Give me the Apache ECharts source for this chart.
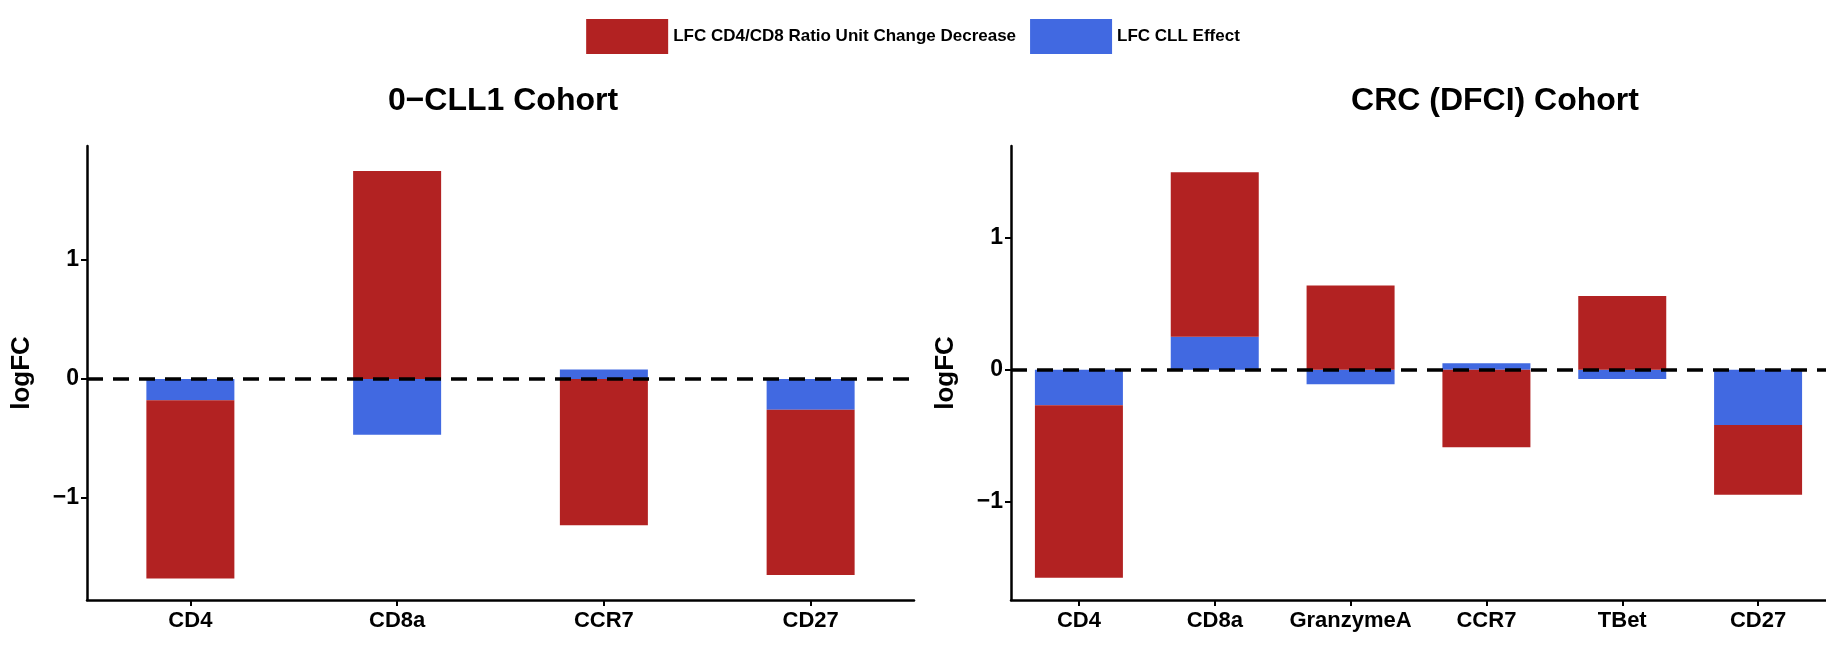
<!DOCTYPE html>
<html><head><meta charset="utf-8">
<script src="https://cdn.jsdelivr.net/npm/echarts@6/dist/echarts.min.js"></script>
<style>html,body{margin:0;padding:0;background:#fff}#c{width:1826px;height:647px}</style>
</head><body><div id="c"></div>
<script>
// values
var catsL = ['CD4', 'CD8a', 'CCR7', 'CD27'];
var blueL = [-0.18, -0.47, 0.08, -0.26];
var redL = [-1.50, 1.75, -1.23, -1.39];
var catsR = ['CD4', 'CD8a', 'GranzymeA', 'CCR7', 'TBet', 'CD27'];
var blueR = [-0.27, 0.25, -0.11, 0.05, -0.07, -0.42];
var redR = [-1.31, 1.25, 0.64, -0.59, 0.56, -0.53];
var yTicks = [-1, 0, 1];

var FONT = 'Liberation Sans';
var RED = '#B22222', BLUE = '#4169E1';
var chart = echarts.init(document.getElementById('c'));

function xAx(i, cats) {
  return {type: 'category', gridIndex: i, data: cats,
    axisLine: {onZero: false, lineStyle: {color: '#000', width: 2.5}},
    axisTick: {show: true, alignWithLabel: true, interval: 0, length: 6, lineStyle: {color: '#000', width: 2}},
    axisLabel: {interval: 0, color: '#000', fontFamily: FONT, fontWeight: 'bold', fontSize: 22, margin: 10}};
}
function yAx(i, min, max) {
  return {type: 'value', gridIndex: i, min: min, max: max,
    name: 'logFC', nameLocation: 'middle', nameGap: 52,
    nameTextStyle: {color: '#000', fontFamily: FONT, fontWeight: 'bold', fontSize: 26},
    splitLine: {show: false},
    axisLine: {show: true, lineStyle: {color: '#000', width: 2.5}},
    axisTick: {show: true, customValues: yTicks, length: 6, lineStyle: {color: '#000', width: 2}},
    axisLabel: {customValues: yTicks, color: '#000', fontFamily: FONT, fontWeight: 'bold', fontSize: 23,
      formatter: function (v) { return v < 0 ? '\u2212' + (-v) : String(v); }}};
}
function ser(name, data, color, i, withLine) {
  var s = {name: name, type: 'bar', stack: 's' + i, xAxisIndex: i, yAxisIndex: i,
    data: data, barWidth: 88, itemStyle: {color: color}};
  if (withLine) s.markLine = {silent: true, z: 20, symbol: 'none', label: {show: false},
    lineStyle: {color: '#000', type: [16, 10], width: 3.5}, data: [{yAxis: 0}]};
  return s;
}
var legendName = ['LFC CD4/CD8 Ratio Unit Change Decrease', 'LFC CLL Effect'];
chart.setOption({
  animation: false,
  legend: {top: 14, left: 'center', itemWidth: 82, itemHeight: 35, itemGap: 14, icon: 'rect',
    data: legendName,
    textStyle: {fontFamily: FONT, fontWeight: 'bold', fontSize: 17, color: '#000'}},
  title: [
    {text: '0\u2212CLL1 Cohort', left: 498, top: 80, textAlign: 'center',
      textStyle: {fontFamily: FONT, fontWeight: 'bold', fontSize: 32, color: '#000'}},
    {text: 'CRC (DFCI) Cohort', left: 1490, top: 80, textAlign: 'center',
      textStyle: {fontFamily: FONT, fontWeight: 'bold', fontSize: 32, color: '#000'}}
  ],
  grid: [
    {left: 87, width: 827, top: 146, height: 454},
    {left: 1011, right: 0, top: 146, height: 454}
  ],
  xAxis: [xAx(0, catsL), xAx(1, catsR)],
  yAxis: [yAx(0, -1.86, 1.96), yAx(1, -1.75, 1.70)],
  series: [
    ser(legendName[1], blueL, BLUE, 0, false),
    ser(legendName[0], redL, RED, 0, true),
    ser(legendName[1], blueR, BLUE, 1, false),
    ser(legendName[0], redR, RED, 1, true)
  ]
});
</script></body></html>
